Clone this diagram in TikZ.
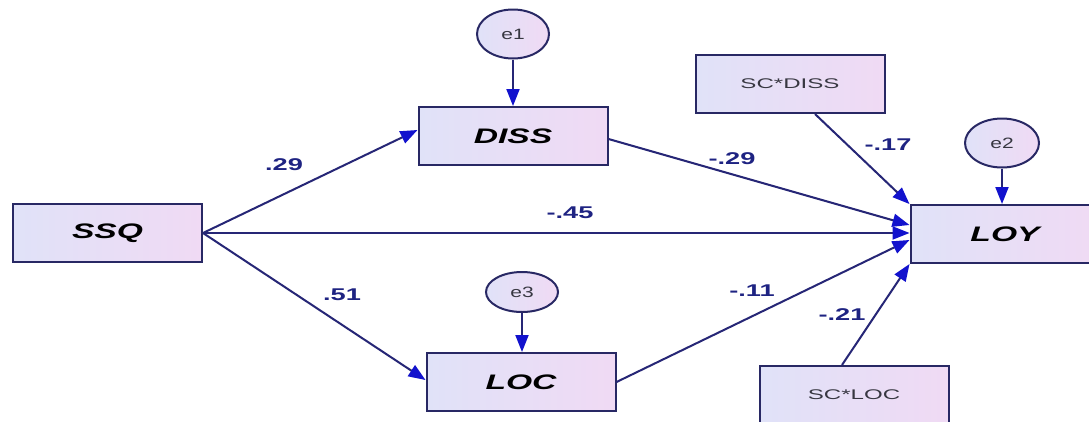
\documentclass[tikz,border=0pt]{standalone}
\usepackage{fontspec}
\setmainfont{Liberation Sans}
\usepackage{graphicx}
\usetikzlibrary{arrows.meta,shapes.geometric}
\definecolor{boxline}{RGB}{40,40,100}
\definecolor{fillL}{RGB}{224,226,248}
\definecolor{fillR}{RGB}{240,218,244}
\definecolor{linecol}{RGB}{38,38,118}
\definecolor{tipcol}{RGB}{18,18,205}
\definecolor{coefcol}{RGB}{30,35,130}
\definecolor{smalltxt}{RGB}{55,55,65}
\newcommand\wide[2]{\scalebox{#1}[1]{#2}}

\begin{document}
\begin{tikzpicture}[x=1pt,y=-1pt,
  varbox/.style={draw=boxline,line width=2pt,left color=fillL,right color=fillR,
    minimum width=189pt,minimum height=58pt,inner sep=0pt,
    font=\fontsize{21}{21}\selectfont\bfseries\itshape},
  modbox/.style={varbox,font=\fontsize{14}{14}\selectfont,text=smalltxt},
  errnode/.style={ellipse,draw=boxline,line width=2pt,left color=fillL,right color=fillR,
    inner sep=0pt,minimum width=72pt,minimum height=49pt,
    font=\fontsize{15}{15}\selectfont,text=smalltxt},
  effect/.style={draw=linecol,line width=2pt,
    -{Triangle[length=17pt,width=13pt,color=tipcol]}},
  coef/.style={font=\fontsize{17}{17}\selectfont\bfseries,text=coefcol,inner sep=0pt}
]
\useasboundingbox (0,0) rectangle (1089,421);
\fill[white] (0,0) rectangle (1089,421);
\clip (0,0) rectangle (1089,421);

% observed variables
\node[varbox] (ssq)  at (107.5,233) {\wide{1.6}{SSQ}};
\node[varbox] (diss) at (513,136)   {\wide{1.6}{DISS}};
\node[varbox] (loc)  at (521,382)   {\wide{1.6}{LOC}};
\node[varbox] (loy)  at (1005,234)  {\wide{1.6}{LOY}};

% interaction terms
\node[modbox] (scdiss) at (790,84)  {\wide{1.72}{SC*DISS}};
\node[modbox] (scloc)  at (854,395) {\wide{1.72}{SC*LOC}};

% error terms
\node[errnode] (e1) at (513,34)  {\wide{1.4}{e1}};
\node[errnode,minimum width=74pt] (e2) at (1002,143) {\wide{1.4}{e2}};
\node[errnode,minimum height=40pt] (e3) at (522,292) {\wide{1.4}{e3}};

% structural paths
\draw[effect] (ssq.east) -- ([yshift=6pt]diss.west);
\draw[effect] (ssq.east) -- (ssq.east -| loy.west);
\draw[effect] (ssq.east) -- ([yshift=2pt]loc.west);
\draw[effect] ([yshift=-3pt]diss.east) -- ([yshift=9pt]loy.west);
\draw[effect] (loc.east) -- ([yshift=-6pt]loy.west);
\draw[effect] ([xshift=25pt]scdiss.south) -- (loy.north west);
\draw[effect] ([xshift=-12pt]scloc.north) -- (loy.south west);

% disturbances
\draw[effect] (e1.south) -- (diss.north);
\draw[effect] (e2.south) -- (e2.south |- loy.north);
\draw[effect] (e3.south) -- (e3.south |- loc.north);

% path coefficients
\node[coef] (c1) at (284,165) {\wide{1.6}{.29}};
\node[coef] (c2) at (342,295) {\wide{1.6}{.51}};
\node[coef] (c3) at (570,213) {\wide{1.6}{-.45}};
\node[coef] (c4) at (732,159) {\wide{1.6}{-.29}};
\node[coef] (c5) at (888,145) {\wide{1.6}{-.17}};
\node[coef] (c6) at (752,291) {\wide{1.6}{-.11}};
\node[coef] (c7) at (842,315) {\wide{1.6}{-.21}};
\end{tikzpicture}
\end{document}
